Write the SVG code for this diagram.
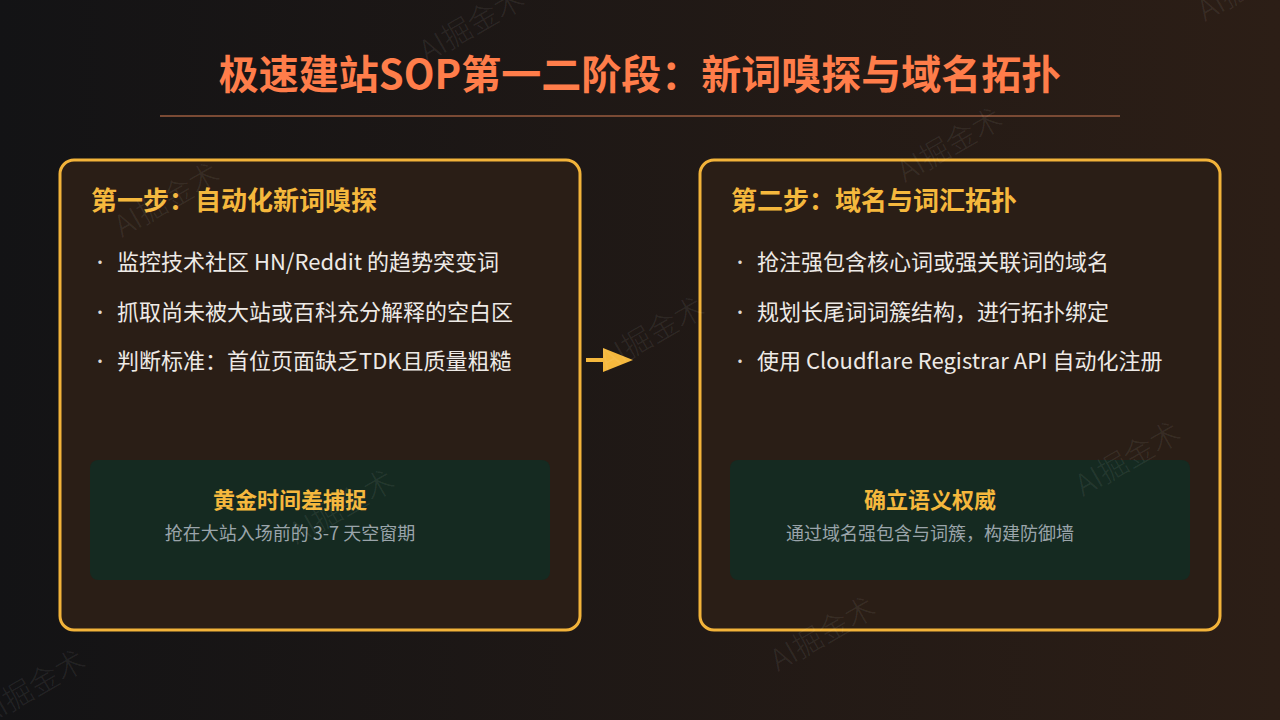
<svg xmlns="http://www.w3.org/2000/svg" width="1280" height="720" viewBox="0 0 1280 720">
  <defs>
    <linearGradient id="bg" x1="0" y1="0" x2="1" y2="0">
      <stop offset="0" stop-color="#131315"/>
      <stop offset="1" stop-color="#2c1e16"/>
    </linearGradient>
    <style>
      text { font-family: "Noto Sans CJK SC", "Noto Sans", sans-serif; }
      .title { font-size: 40px; font-weight: 700; fill: #ff7d4a; }
      .card { fill: #2a1e16; stroke: #f2b33a; stroke-width: 3; }
      .head { font-size: 26px; font-weight: 700; fill: #f5b83d; }
      .item { font-size: 22px; fill: #eeeae6; }
      .dot { font-size: 16px; fill: #dcd8d4; text-anchor: middle; }
      .panel { fill: #152a21; }
      .ptitle { font-size: 22px; font-weight: 700; fill: #f5b83d; text-anchor: middle; }
      .psub { font-size: 18px; fill: #9aa4aa; text-anchor: middle; }
      .wm { font-size: 30px; font-weight: 300; fill: #ffffff; fill-opacity: 0.08; }
    </style>
  </defs>
  <rect width="1280" height="720" fill="url(#bg)"/>

  <g id="title">
    <text class="title" x="640" y="89" text-anchor="middle">极速建站SOP第一二阶段：新词嗅探与域名拓扑</text>
    <line x1="160" y1="116" x2="1120" y2="116" stroke="#7a4a34" stroke-width="2"/>
  </g>

  <g id="step1">
    <rect class="card" x="60" y="160" width="520" height="470" rx="14"/>
    <text class="head" x="91" y="210">第一步：自动化新词嗅探</text>
    <text class="dot" x="100" y="268">•</text>
    <text class="item" x="117" y="270">监控技术社区 HN/Reddit 的趋势突变词</text>
    <text class="dot" x="100" y="318">•</text>
    <text class="item" x="117" y="320">抓取尚未被大站或百科充分解释的空白区</text>
    <text class="dot" x="100" y="367">•</text>
    <text class="item" x="117" y="369">判断标准：首位页面缺乏TDK且质量粗糙</text>
    <g id="step1-note">
      <rect class="panel" x="90" y="460" width="460" height="120" rx="8"/>
      <text class="ptitle" x="290" y="508">黄金时间差捕捉</text>
      <text class="psub" x="290" y="540">抢在大站入场前的 3-7 天空窗期</text>
    </g>
  </g>

  <g id="step2">
    <rect class="card" x="700" y="160" width="520" height="470" rx="14"/>
    <text class="head" x="731" y="210">第二步：域名与词汇拓扑</text>
    <text class="dot" x="740" y="268">•</text>
    <text class="item" x="757" y="270">抢注强包含核心词或强关联词的域名</text>
    <text class="dot" x="740" y="318">•</text>
    <text class="item" x="757" y="320">规划长尾词词簇结构，进行拓扑绑定</text>
    <text class="dot" x="740" y="367">•</text>
    <text class="item" x="757" y="369">使用 Cloudflare Registrar API 自动化注册</text>
    <g id="step2-note">
      <rect class="panel" x="730" y="460" width="460" height="120" rx="8"/>
      <text class="ptitle" x="930" y="508">确立语义权威</text>
      <text class="psub" x="930" y="540">通过域名强包含与词簇，构建防御墙</text>
    </g>
  </g>

  <g id="connectors">
    <line x1="586" y1="360" x2="606" y2="360" stroke="#f5b83d" stroke-width="4"/>
    <polygon points="603,348 633,360 603,372" fill="#f5b83d"/>
  </g>

  <g id="watermarks">
    <text class="wm" transform="translate(427,63) rotate(-30)">AI掘金术</text>
    <text class="wm" transform="translate(122,238) rotate(-30)">AI掘金术</text>
    <text class="wm" transform="translate(905,183) rotate(-30)">AI掘金术</text>
    <text class="wm" transform="translate(607,372) rotate(-30)">AI掘金术</text>
    <text class="wm" transform="translate(297,545) rotate(-30)">AI掘金术</text>
    <text class="wm" transform="translate(1083,497) rotate(-30)">AI掘金术</text>
    <text class="wm" transform="translate(778,672) rotate(-30)">AI掘金术</text>
    <text class="wm" transform="translate(-12,725) rotate(-30)">AI掘金术</text>
    <text class="wm" transform="translate(1205,22) rotate(-30)">AI掘金术</text>
  </g>
</svg>
